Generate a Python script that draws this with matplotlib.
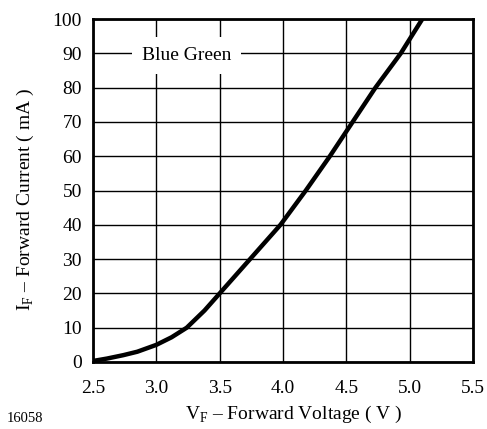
import matplotlib
matplotlib.use("Agg")
import matplotlib.pyplot as plt

# forward voltage (V) vs forward current (mA), blue green LED
vf = [2.5, 2.61, 2.74, 2.85, 3.0, 3.12, 3.24, 3.38, 3.5, 3.74, 3.98, 4.18,
      4.37, 4.55, 4.73, 4.93, 5.10]
i_f = [0.3, 1.0, 2.0, 3.0, 5.0, 7.2, 10, 15, 20, 30, 40, 50,
       60, 70, 80, 90, 100]

x_ticks = [2.5, 3.0, 3.5, 4.0, 4.5, 5.0, 5.5]
y_ticks = [0, 10, 20, 30, 40, 50, 60, 70, 80, 90, 100]

plt.rcParams["font.family"] = ["Liberation Serif", "DejaVu Serif"]
plt.rcParams["mathtext.fontset"] = "custom"
plt.rcParams["mathtext.rm"] = "Liberation Serif"

W, H = 487, 429
fig = plt.figure(figsize=(W / 100, H / 100), dpi=100)
ax = fig.add_axes([93 / W, 1 - 362 / H, 380 / W, 343 / H])

ax.set_xlim(2.5, 5.5)
ax.set_ylim(0, 100)
ax.set_xticks(x_ticks)
ax.set_yticks(y_ticks)
ax.set_xticklabels([f"{v:.1f}" for v in x_ticks])
ax.set_yticklabels([str(v) for v in y_ticks])
ax.tick_params(length=0, labelsize=14)
ax.tick_params(axis="x", pad=13)
ax.tick_params(axis="y", pad=8)
ax.grid(True, color="black", linewidth=1.0)
ax.set_axisbelow(True)
for s in ax.spines.values():
    s.set_linewidth(2.0)

ax.plot(vf, i_f, color="black", linewidth=3.2, solid_joinstyle="round",
        solid_capstyle="butt", zorder=3)

ax.text(3.24, 89.3, "Blue Green", fontsize=14, ha="center", va="center",
        bbox=dict(facecolor="white", edgecolor="none", pad=7), zorder=2.5)

ax.set_xlabel(r"V$_\mathrm{F}$ – Forward Voltage ( V )", fontsize=14, va="center")
ax.xaxis.set_label_coords((294 - 93) / 380, -(414 - 362) / 343)
ax.set_ylabel(r"I$_\mathrm{F}$ – Forward Current ( mA )", fontsize=14, va="center")
ax.yaxis.set_label_coords(-(93 - 25) / 380, (362 - 200) / 343)
fig.text(7 / W, 1 - 418 / H, "16058", fontsize=10.5, va="center")

fig.savefig("out.png", dpi=100)
